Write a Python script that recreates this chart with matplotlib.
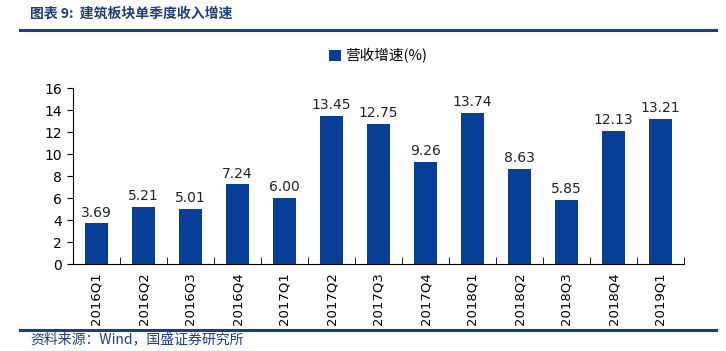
import numpy as np
import matplotlib.pyplot as plt
from matplotlib.lines import Line2D

plt.rcParams['font.family'] = ['Noto Sans CJK SC', 'DejaVu Sans']

quarters = ["2016Q1", "2016Q2", "2016Q3", "2016Q4", "2017Q1", "2017Q2", "2017Q3",
            "2017Q4", "2018Q1", "2018Q2", "2018Q3", "2018Q4", "2019Q1"]
growth = [3.69, 5.21, 5.01, 7.24, 6.00, 13.45, 12.75, 9.26, 13.74, 8.63, 5.85, 12.13, 13.21]
yticks = [0, 2, 4, 6, 8, 10, 12, 14, 16]

bar_color = "#073f97"
navy = "#1f3f77"

fig = plt.figure(figsize=(7.26, 3.51), dpi=100)
ax = fig.add_axes([73 / 726, 1 - 264 / 351, (684 - 73) / 726, (264 - 88) / 351])

x = np.arange(len(quarters))
ax.bar(x, growth, width=0.5, color=bar_color, label="营收增速(%)")
for xi, v in zip(x, growth):
    ax.text(xi, v + 0.35, f"{v:.2f}", ha="center", va="bottom", fontsize=10,
            family=["DejaVu Sans"], color="#222222")

ax.set_xlim(-0.5, len(quarters) - 0.5)
ax.set_ylim(0, 16)
ax.set_yticks(yticks)
ax.set_yticklabels([str(t) for t in yticks], family=["DejaVu Sans"])
ax.tick_params(axis="y", labelsize=10, length=4, direction="out", pad=4)
ax.set_xticks(x)
ax.set_xticklabels(quarters, rotation=90, fontsize=9.5, family=["DejaVu Sans"])
ax.tick_params(axis="x", length=0, pad=6)
ax.set_xticks(np.arange(0.5, len(quarters) - 0.4, 1), minor=True)
ax.tick_params(axis="x", which="minor", direction="in", length=5)
for s in ["top", "right"]:
    ax.spines[s].set_visible(False)

ax.legend(loc="upper center", bbox_to_anchor=(0.5, 1.3), frameon=False, fontsize=10.5,
          handlelength=0.8, handleheight=0.8, handletextpad=0.3)

fig.text(30 / 726, 1 - 14 / 351, "图表 9:  建筑板块单季度收入增速", fontsize=10, style="italic",
         color=navy, va="center", weight="bold")
fig.add_artist(Line2D([20 / 726, 716 / 726], [1 - 29.5 / 351] * 2, color=navy, lw=2.2))
fig.add_artist(Line2D([20 / 726, 716 / 726], [1 - 329.5 / 351] * 2, color=navy, lw=2.2))
fig.text(30 / 726, 1 - 339 / 351, "资料来源：Wind，国盛证券研究所", fontsize=10, style="italic",
         color=navy, va="center")

fig.savefig("out.png", dpi=100)
